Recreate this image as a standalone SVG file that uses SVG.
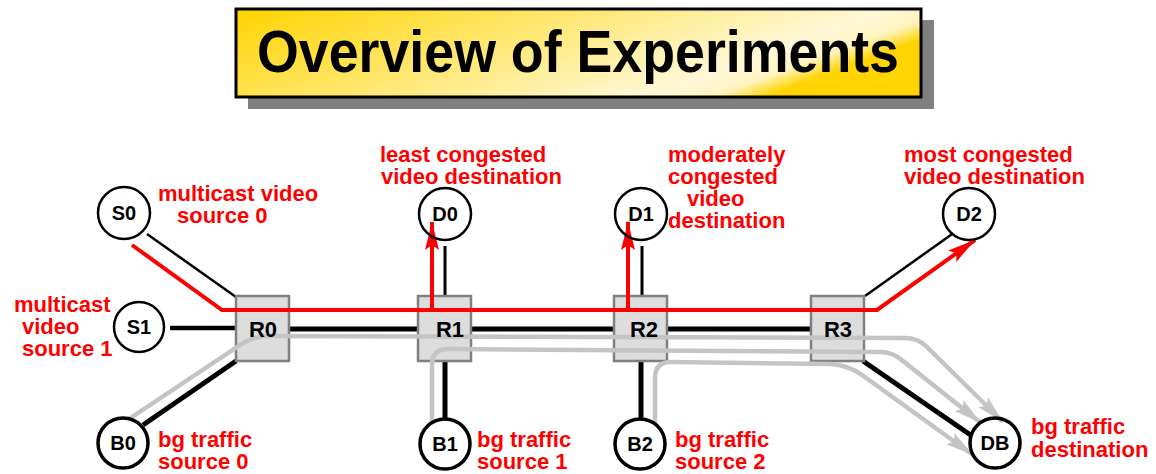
<svg xmlns="http://www.w3.org/2000/svg" width="1156" height="474" viewBox="0 0 1156 474">
<defs>
<linearGradient id="tg" x1="0" y1="0" x2="1" y2="0.35">
<stop offset="0" stop-color="#FFD400"/>
<stop offset="0.45" stop-color="#FFE770"/>
<stop offset="0.85" stop-color="#FFF8D8"/>
<stop offset="0.93" stop-color="#FFF4C0"/>
<stop offset="1" stop-color="#FFD400"/>
</linearGradient>
<marker id="ar" markerWidth="32" markerHeight="18" viewBox="-30 -9 32 18" refX="0" refY="0" orient="auto" markerUnits="userSpaceOnUse">
<path d="M0,0 L-28,-7 L-23,0 L-28,7 Z" fill="#FF0000"/>
</marker>
<marker id="ag" markerWidth="32" markerHeight="18" viewBox="-30 -9 32 18" refX="0" refY="0" orient="auto" markerUnits="userSpaceOnUse">
<path d="M0,0 L-28,-7 L-23,0 L-28,7 Z" fill="#C4C4C4"/>
</marker>
</defs>
<style>
.lbl{font-family:"Liberation Sans",Arial,sans-serif;font-weight:bold;font-size:22px;fill:#FF0000}
.nt{font-family:"Liberation Sans",Arial,sans-serif;font-weight:bold;font-size:20px;fill:#000;text-anchor:middle}
.rl{font-family:"Liberation Sans",Arial,sans-serif;font-weight:bold;font-size:22px;fill:#000;text-anchor:middle}
.nd{fill:#fff;stroke:#000;stroke-width:2.5}
.nb{fill:#fff;stroke:#000;stroke-width:3.5}
.rt{fill:#DDDDDD;stroke:#808080;stroke-width:2.5}
.bk{stroke:#000;fill:none}
.rd{stroke:#FF0000;stroke-width:4;fill:none}
.gr{stroke:#C4C4C4;stroke-width:4.5;fill:none}
</style>
<g id="title">
<rect x="248" y="20" width="686" height="89" fill="#808080"/>
<rect x="236" y="9" width="685" height="88" fill="url(#tg)" stroke="#000" stroke-width="3"/>
<text x="578" y="72" font-family="'Liberation Sans',Arial,sans-serif" font-weight="bold" font-size="60" text-anchor="middle" textLength="642" lengthAdjust="spacingAndGlyphs">Overview of Experiments</text>
</g>
<g id="connectors">
<line class="bk" x1="147" y1="234" x2="236" y2="297" stroke-width="2.5"/>
<line class="bk" x1="170" y1="328" x2="236" y2="328" stroke-width="4.5"/>
<line class="bk" x1="288" y1="329" x2="418" y2="329" stroke-width="5"/>
<line class="bk" x1="471" y1="329" x2="614" y2="329" stroke-width="5"/>
<line class="bk" x1="667" y1="329" x2="811" y2="329" stroke-width="5"/>
<line class="bk" x1="445" y1="246" x2="445" y2="296" stroke-width="3"/>
<line class="bk" x1="642" y1="246" x2="642" y2="296" stroke-width="3"/>
<line class="bk" x1="865" y1="296" x2="955" y2="232" stroke-width="2.5"/>
<line class="bk" x1="236" y1="361" x2="143" y2="425" stroke-width="5"/>
<line class="bk" x1="445" y1="361" x2="445" y2="420" stroke-width="5"/>
<line class="bk" x1="641" y1="361" x2="641" y2="420" stroke-width="5"/>
<line class="bk" x1="863" y1="361" x2="972" y2="436" stroke-width="5"/>
</g>
<g id="R0"><rect class="rt" x="236" y="296" width="53" height="65"/></g>
<g id="R1"><rect class="rt" x="418" y="296" width="53" height="65"/></g>
<g id="R2"><rect class="rt" x="614" y="296" width="53" height="65"/></g>
<g id="R3"><rect class="rt" x="811" y="296" width="53" height="65"/></g>
<g id="flows">
<path class="rd" d="M132,245 L222,310 L877,310 L975,240" marker-end="url(#ar)"/>
<path class="rd" d="M432,310 L432,222" marker-end="url(#ar)"/>
<path class="rd" d="M628,310 L628,222" marker-end="url(#ar)"/>
<path class="gr" d="M120,425 L237,347 Q252,336 270,336 L905,338 Q918,338 927,347 L1003,422" marker-end="url(#ag)"/>
<path class="gr" d="M432,423 L432,365 Q432,349 448,349 L880,352 Q893,352 903,361 L981,423" marker-end="url(#ag)"/>
<path class="gr" d="M655,425 L655,378 Q655,362 671,362 L830,364 Q848,365 862,375 L973,455" marker-end="url(#ag)"/>
</g>
<g id="router-labels">
<text class="rl" x="263" y="337">R0</text>
<text class="rl" x="450" y="337">R1</text>
<text class="rl" x="644" y="337">R2</text>
<text class="rl" x="838" y="337">R3</text>
</g>
<g id="S0"><circle class="nd" cx="124" cy="213" r="26"/><text class="nt" x="124" y="220">S0</text></g>
<g id="S1"><circle class="nd" cx="139" cy="327" r="25"/><text class="nt" x="139" y="334">S1</text></g>
<g id="D0"><circle class="nd" cx="445" cy="214" r="26" style="fill:none"/><text class="nt" x="445" y="221">D0</text></g>
<g id="D1"><circle class="nd" cx="641" cy="214" r="26" style="fill:none"/><text class="nt" x="641" y="221">D1</text></g>
<g id="D2"><circle class="nd" cx="969" cy="214" r="26"/><text class="nt" x="969" y="221">D2</text></g>
<g id="B0"><circle class="nb" cx="123" cy="443" r="25"/><text class="nt" x="123" y="450">B0</text></g>
<g id="B1"><circle class="nb" cx="445" cy="444" r="25"/><text class="nt" x="445" y="451">B1</text></g>
<g id="B2"><circle class="nb" cx="640" cy="444" r="25"/><text class="nt" x="640" y="451">B2</text></g>
<g id="DB"><circle class="nb" cx="995" cy="443" r="25" style="fill:none"/><text class="nt" x="995" y="450">DB</text></g>
<g id="labels">
<text class="lbl" x="158" y="201">multicast video</text>
<text class="lbl" x="177" y="223">source 0</text>
<text class="lbl" x="14" y="312">multicast</text>
<text class="lbl" x="22" y="334">video</text>
<text class="lbl" x="22" y="356">source 1</text>
<text class="lbl" x="380" y="162">least congested</text>
<text class="lbl" x="381" y="184">video destination</text>
<text class="lbl" x="668" y="162">moderately</text>
<text class="lbl" x="668" y="184">congested</text>
<text class="lbl" x="687" y="206">video</text>
<text class="lbl" x="668" y="228">destination</text>
<text class="lbl" x="904" y="162">most congested</text>
<text class="lbl" x="904" y="184">video destination</text>
<text class="lbl" x="158" y="447">bg traffic</text>
<text class="lbl" x="158" y="469">source 0</text>
<text class="lbl" x="477" y="447">bg traffic</text>
<text class="lbl" x="477" y="469">source 1</text>
<text class="lbl" x="675" y="447">bg traffic</text>
<text class="lbl" x="675" y="469">source 2</text>
<text class="lbl" x="1031" y="434">bg traffic</text>
<text class="lbl" x="1031" y="457">destination</text>
</g>
</svg>
